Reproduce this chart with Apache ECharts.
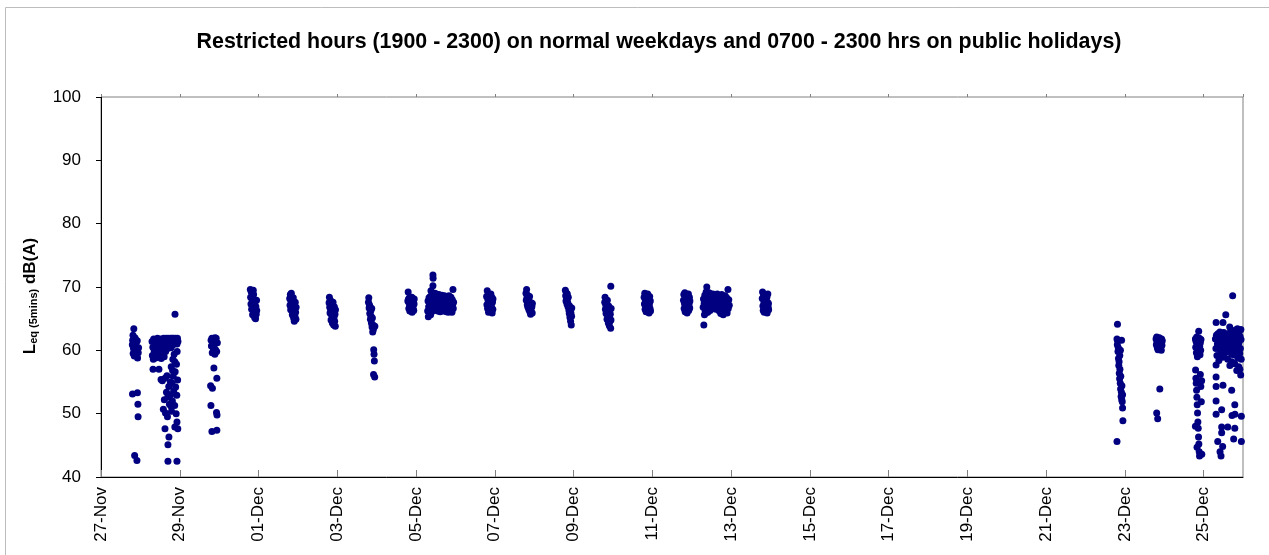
<!DOCTYPE html>
<html>
<head>
<meta charset="utf-8">
<script src="https://cdn.jsdelivr.net/npm/echarts@6/dist/echarts.min.js"></script>
<style>
  html, body { margin: 0; padding: 0; background: #fff; }
  #chart { width: 1269px; height: 555px; }
</style>
</head>
<body>
<div id="chart"></div>
<script>
// x tick labels, one every 2 days from 27-Nov
const tickLabels = ['27-Nov', '29-Nov', '01-Dec', '03-Dec', '05-Dec', '07-Dec', '09-Dec', '11-Dec',
  '13-Dec', '15-Dec', '17-Dec', '19-Dec', '21-Dec', '23-Dec', '25-Dec']

// readings per day: [hour of day, Leq dB(A)]
const nov27 = [[19.1,60.9],[19.3,61.6],[19.5,62.4],[19.6,59.5],[19.8,60.3],[20.0,63.4],[20.1,61.1],[20.3,59.1],
  [20.5,43.4],[20.6,60.6],[20.8,61.8],[21.0,59.8],[21.2,60.9],[19.2,53.1],[21.5,61.3],[21.7,59.4],[21.9,42.6],
  [22.0,60.1],[22.2,53.3],[22.3,58.8],[22.5,51.5],[22.6,49.5],[22.7,59.6],[22.9,60.4],[22.1,61.5],[20.7,62.0]]

const nov28 = [[7.1,61.4],[7.3,59.2],[7.6,60.5],[7.9,58.6],[8.1,61.8],[8.4,59.9],[7.7,57.0],[8.9,60.8],[9.2,58.8],
  [9.5,61.5],[9.8,59.5],[10.1,60.2],[10.4,61.9],[10.7,58.9],[11.0,60.7],[11.3,57.0],[11.5,61.3],[11.8,59.6],
  [12.1,60.4],[12.4,61.8],[12.7,58.7],[13.0,60.9],[13.3,59.3],[13.6,61.6],[13.9,60.1],[14.2,61.9],[14.5,59.0],
  [14.8,60.6],[15.1,61.4],[15.4,59.8],[15.7,61.9],[16.0,60.9],[16.3,61.5],[16.6,60.3],[16.9,61.9],[17.2,61.2],
  [17.5,60.6],[17.8,61.7],[18.1,61.0],[18.4,61.9],[18.7,60.4],[19.0,61.5],[19.3,61.9],[19.6,60.8],[19.9,61.6],
  [20.2,61.9],[20.5,61.2],[20.8,61.7],[21.1,65.7],[21.4,61.9],[21.7,61.3],[22.0,61.8],[22.3,61.0],[22.6,61.9],
  [22.9,61.4],
  [12.6,55.4],[13.4,55.2],[14.0,50.7],[14.6,52.2],[15.0,55.6],[15.3,50.1],[15.0,47.6],[15.9,53.4],[16.2,56.0],
  [16.5,49.5],[16.7,52.6],[21.0,47.9],[17.3,54.3],[17.4,46.3],[17.7,51.5],[16.8,45.1],[16.8,42.5],[18.3,55.0],
  [18.5,53.0],[18.8,57.4],[19.0,50.4],[19.3,54.8],[19.5,52.0],[19.8,58.6],[20.0,55.9],[20.3,53.6],[20.6,59.4],
  [20.9,51.3],[21.2,56.6],[21.5,54.2],[21.8,50.0],[22.0,57.8],[22.2,52.9],[22.4,59.8],[22.3,48.7],[22.7,55.3],
  [22.8,47.6],[22.3,42.5],[21.0,58.2],[19.6,56.8],[18.6,51.2]]

const nov29 = [[19.1,61.6],[19.3,60.7],[18.8,54.4],[19.6,61.9],[19.8,59.6],[19.9,54.0],[20.1,61.2],[19.0,51.3],
  [20.5,60.3],[20.7,61.8],[19.6,47.2],[21.0,60.9],[20.8,57.2],[21.4,59.4],[21.6,61.5],[21.8,60.1],[22.6,55.6],
  [22.2,61.9],[22.4,50.2],[22.5,59.8],[22.7,49.8],[22.6,47.4],[22.9,61.2],[21.5,62.0]]

const nov30 = [[19.0,69.6],[19.2,68.4],[19.4,67.3],[19.6,69.2],[19.8,66.5],[20.0,68.1],[20.2,67.0],[20.4,65.6],
  [20.6,66.8],[20.8,69.5],[21.0,68.8],[21.2,67.6],[21.4,66.1],[21.6,65.2],[21.8,67.2],[22.0,66.4],[22.2,65.0],
  [22.4,66.9],[22.6,65.7],[22.8,67.9],[22.9,66.3]]

const dec01 = [[19.0,68.2],[19.2,67.1],[19.4,68.8],[19.6,66.4],[19.8,67.7],[20.0,69.0],[20.2,66.9],[20.4,68.0],
  [20.6,65.6],[20.8,67.4],[21.0,66.2],[21.2,68.3],[21.4,65.1],[21.6,67.0],[21.8,64.6],[22.0,66.6],[22.2,65.4],
  [22.4,67.6],[22.6,66.0],[22.8,64.9],[22.9,66.8]]

const dec02 = [[19.0,67.5],[19.2,68.4],[19.4,66.8],[19.6,65.9],[19.8,67.9],[20.0,66.3],[20.2,64.8],[20.4,67.2],
  [20.6,65.5],[20.8,66.7],[21.0,64.3],[21.2,65.9],[21.4,67.6],[21.6,66.1],[21.8,64.0],[22.0,65.2],[22.2,66.9],
  [22.4,64.6],[22.6,65.7],[22.8,63.8],[22.9,66.4]]

const dec03 = [[19.0,67.6],[19.2,68.3],[19.4,66.7],[19.6,67.2],[19.8,65.8],[20.0,66.9],[20.2,64.9],[20.4,66.2],
  [20.6,65.4],[20.8,64.3],[21.0,66.6],[21.2,63.7],[21.4,65.1],[21.6,62.9],[21.8,64.0],[22.0,63.3],[22.2,60.1],
  [22.4,59.4],[22.6,58.3],[22.8,55.8],[22.9,63.8],[22.1,56.2]]

const dec04 = [[19.0,67.8],[19.2,69.2],[19.4,68.1],[19.6,66.6],[19.8,67.4],[20.0,68.3],[20.2,66.2],[20.4,67.7],
  [20.6,66.9],[20.8,68.0],[21.0,66.4],[21.2,67.2],[21.4,68.4],[21.6,66.0],[21.8,67.5],[22.0,68.2],[22.2,66.7],
  [22.4,67.9],[22.6,66.3],[22.8,67.3],[22.9,68.1]]

const dec05 = [[7.1,66.2],[7.3,67.8],[7.5,65.3],[7.7,66.9],[7.9,68.3],[8.1,65.8],[8.3,67.3],[8.5,66.4],[8.7,68.5],
  [8.9,65.6],[9.1,69.4],[9.3,67.0],[9.5,66.1],[9.7,68.0],[9.9,67.5],[10.1,66.6],[10.3,71.9],[10.4,71.4],
  [10.3,70.2],[10.5,68.7],[10.7,67.2],[10.9,66.3],[11.1,68.2],[11.3,67.6],[11.5,69.0],[11.7,66.8],[11.9,68.4],
  [12.1,67.1],[12.3,68.9],[12.5,66.5],[12.7,67.9],[12.9,68.6],[13.1,67.4],[13.3,66.2],[13.5,68.1],[13.7,67.0],
  [13.9,68.8],[14.1,66.7],[14.3,67.7],[14.5,68.5],[14.7,66.1],[14.9,67.3],[15.1,68.2],[15.3,66.6],[15.5,67.8],
  [15.7,68.7],[15.9,66.4],[16.1,67.5],[16.3,68.3],[16.5,67.0],[16.7,66.2],[16.9,68.0],[17.1,67.3],[17.3,68.6],
  [17.5,66.5],[17.7,67.6],[17.9,68.4],[18.1,66.8],[18.3,67.9],[18.5,66.1],[18.7,68.2],[18.9,67.1],[19.1,66.4],
  [19.3,68.5],[19.5,67.4],[19.7,66.0],[19.9,67.8],[20.1,68.6],[20.3,66.7],[20.5,67.5],[20.7,68.1],[20.9,66.3],
  [21.1,67.2],[21.3,68.4],[21.5,66.9],[21.7,67.7],[21.9,66.0],[22.1,68.0],[22.3,67.0],[22.5,69.6],[22.7,66.6],
  [22.9,67.6]]

const dec06 = [[19.0,68.5],[19.2,67.2],[19.4,69.4],[19.6,66.6],[19.8,68.0],[20.0,67.4],[20.2,66.0],[20.4,68.8],
  [20.6,67.0],[20.8,66.4],[21.0,68.2],[21.2,67.7],[21.4,66.2],[21.6,68.9],[21.8,67.3],[22.0,66.8],[22.2,68.4],
  [22.4,65.9],[22.6,67.6],[22.8,66.5],[22.9,68.1]]

const dec07 = [[19.0,69.0],[19.2,67.9],[19.4,69.6],[19.6,68.3],[19.8,67.2],[20.0,68.7],[20.2,66.8],[20.4,67.6],
  [20.6,68.1],[20.8,66.4],[21.0,67.3],[21.2,68.5],[21.4,66.1],[21.6,67.0],[21.8,65.7],[22.0,66.6],[22.2,67.5],
  [22.4,66.0],[22.6,66.9],[22.8,65.9],[22.9,67.4]]

const dec08 = [[19.0,69.5],[19.2,68.6],[19.4,67.8],[19.6,69.1],[19.8,68.2],[20.0,67.3],[20.2,68.9],[20.4,67.6],
  [20.6,66.9],[20.8,68.4],[21.0,67.1],[21.2,66.3],[21.4,65.8],[21.6,67.0],[21.8,65.2],[22.0,66.5],[22.2,64.6],
  [22.4,65.9],[22.6,64.0],[22.8,65.4],[22.9,66.7]]

const dec09 = [[19.0,67.6],[19.2,68.4],[19.4,66.5],[19.6,67.2],[19.8,65.8],[22.7,70.1],[20.2,66.9],[20.4,64.9],
  [20.6,67.9],[20.8,65.5],[21.0,66.3],[21.2,64.3],[21.4,67.0],[21.6,65.1],[21.8,63.9],[22.0,66.0],[22.2,64.6],
  [22.4,65.7],[22.6,63.5],[22.8,64.8],[22.9,66.6]]

const dec10 = [[19.0,68.4],[19.2,67.3],[19.4,69.0],[19.6,66.5],[19.8,67.9],[20.0,68.7],[20.2,66.1],[20.4,67.6],
  [20.6,68.2],[20.8,66.8],[21.0,67.0],[21.2,68.9],[21.4,66.3],[21.6,67.5],[21.8,68.0],[22.0,65.9],[22.2,67.2],
  [22.4,68.5],[22.6,66.6],[22.8,67.8],[22.9,66.2]]

const dec11 = [[19.0,67.9],[19.2,68.8],[19.4,66.6],[19.6,67.4],[19.8,69.1],[20.0,66.1],[20.2,68.3],[20.4,67.1],
  [20.6,66.4],[20.8,68.6],[21.0,67.7],[21.2,65.9],[21.4,68.0],[21.6,66.9],[21.8,67.5],[22.0,68.9],[22.2,66.3],
  [22.4,67.3],[22.6,68.4],[22.8,66.7],[22.9,67.8]]

const dec12 = [[7.0,66.8],[7.2,68.1],[7.4,64.0],[7.6,67.4],[7.8,65.6],[8.0,68.7],[8.2,66.2],[8.4,67.8],[8.6,65.9],
  [8.8,69.2],[9.0,66.9],[9.2,70.0],[9.4,68.3],[9.6,67.2],[9.8,66.0],[10.0,68.8],[10.2,67.6],[10.4,66.5],
  [10.6,69.1],[10.8,67.0],[11.0,68.4],[11.2,66.3],[11.4,67.9],[11.6,68.9],[11.8,67.3],[12.0,66.7],[12.3,68.5],
  [12.6,67.5],[12.9,68.9],[13.2,67.1],[13.5,68.2],[13.8,66.8],[14.1,68.7],[14.4,67.6],[14.7,66.5],[15.0,68.3],
  [15.3,67.4],[15.6,68.9],[15.9,66.9],[16.2,67.8],[16.5,68.6],[16.8,66.2],[17.1,67.3],[17.4,68.4],[17.7,65.8],
  [18.0,67.0],[18.3,68.8],[18.6,66.4],[18.9,67.7],[19.2,65.6],[19.5,68.1],[19.8,66.7],[20.1,67.5],[20.4,68.6],
  [20.7,66.1],[21.0,67.2],[21.3,68.3],[21.6,65.9],[21.9,67.8],[22.1,69.6],[22.3,66.6],[22.6,68.0],[22.9,67.1]]

const dec13 = [[19.0,68.2],[19.2,69.2],[19.4,67.0],[19.6,66.3],[19.8,68.6],[20.0,67.5],[20.2,66.0],[20.4,68.0],
  [20.6,67.3],[20.8,66.6],[21.0,68.8],[21.2,67.8],[21.4,66.2],[21.6,67.1],[21.8,68.4],[22.0,65.9],[22.2,67.6],
  [22.4,68.9],[22.6,66.8],[22.8,67.4],[22.9,66.4]]

const dec22 = [[19.2,61.8],[19.4,60.9],[19.6,61.5],[19.8,59.8],[20.0,60.4],[20.1,58.7],[20.3,57.6],[20.5,58.2],
  [20.6,56.4],[20.8,55.5],[21.0,57.0],[21.2,54.8],[21.4,53.9],[21.5,55.9],[21.7,52.7],[21.9,53.4],[22.1,52.2],
  [22.2,54.4],[22.4,51.9],[22.6,50.9],[22.8,48.9],[19.5,64.1],[19.2,45.6],[20.9,59.2],[21.3,60.0],[22.0,61.6],
  [22.6,53.0]]

const dec23 = [[19.0,61.8],[19.2,60.9],[19.4,62.1],[19.6,61.2],[19.8,60.4],[20.0,61.6],[20.2,60.1],[20.4,61.9],
  [20.6,60.7],[20.8,61.4],[21.0,62.0],[21.2,60.3],[21.4,61.0],[21.6,61.7],[21.8,60.5],[22.0,61.3],[22.2,60.0],
  [22.4,61.8],[22.6,60.8],[22.8,61.5],[21.3,53.9],[19.4,50.1],[20.0,49.2]]

const dec24 = [[19.0,61.8],[19.2,60.5],[19.4,61.4],[19.6,59.6],[19.8,62.1],[20.0,60.9],[20.2,59.0],[20.4,61.6],
  [20.6,60.2],[20.8,61.1],[21.0,63.0],[21.2,59.8],[21.4,61.9],[21.6,60.6],[21.8,59.3],[22.0,61.2],[22.2,60.0],
  [22.4,61.7],[19.1,56.9],[19.3,55.6],[19.5,54.8],[19.7,53.7],[19.9,52.6],[20.1,51.4],[20.3,50.1],[20.5,48.7],
  [20.7,47.7],[20.9,46.3],[21.1,45.2],[21.3,44.0],[21.5,43.3],[22.0,56.2],[22.3,54.3],[22.6,51.9],[22.8,55.2],
  [19.0,48.0],[22.9,43.6],[20.0,44.7]]

const dec25 = [[7.2,61.8],[7.5,60.3],[7.8,62.4],[8.1,59.2],[8.4,61.0],[8.7,62.6],[9.0,60.5],[9.3,58.4],[9.6,61.6],
  [9.9,62.9],[10.2,60.0],[10.5,61.3],[10.8,59.5],[11.1,62.2],[11.4,60.8],[11.7,58.9],[12.0,61.5],[12.3,62.8],
  [12.6,60.2],[12.9,61.9],[13.2,59.6],[13.5,62.5],[13.8,61.1],[14.1,60.4],[14.4,62.1],[14.7,58.6],[15.0,61.7],
  [15.3,60.9],[15.6,62.7],[15.9,59.9],[16.2,61.4],[16.5,62.3],[16.8,60.6],[17.1,58.2],[17.4,61.2],[17.7,62.9],
  [18.0,60.1],[18.2,61.8],[18.4,59.3],[18.6,62.5],[18.8,60.7],[19.0,57.9],[19.2,61.5],[19.4,63.2],[19.6,59.7],
  [19.8,62.0],[20.0,60.4],[20.2,56.8],[20.4,61.9],[20.6,63.4],[20.8,58.8],[21.0,62.6],[21.2,60.9],[21.4,57.4],
  [21.6,61.3],[21.8,63.0],[22.0,59.5],[22.2,62.2],[22.4,60.3],[22.6,56.1],[22.8,61.7],[22.9,58.6],[21.5,59.9],
  [20.5,62.1],[19.5,60.9],[22.1,57.0],[22.7,63.3],[18.1,63.0],[17.0,59.4],[16.0,57.6],
  [17.7,68.6],[13.5,65.6],[7.6,64.4],[11.8,64.4],[15.9,63.7],[7.6,57.7],[7.6,55.8],[7.6,54.3],[11.8,54.5],
  [17.1,53.7],[7.6,52.0],[19.0,51.4],[11.0,50.6],[7.6,49.9],[17.3,49.7],[19.1,49.9],[23.0,49.6],[11.0,47.9],
  [14.7,47.9],[19.0,47.7],[11.0,47.0],[8.6,45.6],[18.3,46.0],[23.0,45.6],[11.6,44.8],[10.0,44.0],[10.6,43.3]]

// day offset from 27-Nov for each set of readings
const dayReadings = [[0, nov27], [1, nov28], [2, nov29], [3, nov30], [4, dec01], [5, dec02], [6, dec03],
  [7, dec04], [8, dec05], [9, dec06], [10, dec07], [11, dec08], [12, dec09], [13, dec10], [14, dec11],
  [15, dec12], [16, dec13], [25, dec22], [26, dec23], [27, dec24], [28, dec25]]

const points = dayReadings.flatMap(([day, pts]) => pts.map(([h, v]) => [day + h / 24, v]))

const font = 'Liberation Sans, Arial, sans-serif'
const chart = echarts.init(document.getElementById('chart'))

chart.setOption({
  animation: false,
  backgroundColor: '#fff',
  title: {
    text: 'Restricted hours (1900 - 2300) on normal weekdays and 0700 - 2300 hrs on public holidays)',
    left: 654,
    textAlign: 'center',
    top: 27,
    textStyle: { fontFamily: font, fontSize: 21.4, fontWeight: 'bold', color: '#000' }
  },
  graphic: [{
    type: 'rect',
    shape: { x: 5.5, y: 7.5, width: 1400, height: 700 },
    style: { fill: 'none', stroke: '#bdbdbd', lineWidth: 1 },
    silent: true
  }],
  grid: {
    left: 101, right: 26, top: 97, bottom: 78,
    show: true, borderColor: '#808080', borderWidth: 1
  },
  xAxis: [{
    type: 'value',
    min: 0, max: 29, interval: 2,
    axisLine: { lineStyle: { color: '#000', width: 1 } },
    axisTick: { inside: true, length: 7, lineStyle: { color: '#808080' } },
    axisLabel: {
      rotate: 90, margin: 10, fontSize: 17, fontFamily: font, color: '#000',
      showMaxLabel: false,
      formatter: v => tickLabels[v / 2] || ''
    },
    splitLine: { show: false }
  }, {
    type: 'value',
    min: 0, max: 29, interval: 2,
    axisLine: { show: false },
    axisTick: { length: 3, lineStyle: { color: '#808080' } },
    axisLabel: { show: false },
    splitLine: { show: false }
  }],
  yAxis: {
    type: 'value',
    min: 40, max: 100, interval: 10,
    name: '{a|L}{b|eq (5mins)}{a| dB(A)}',
    nameLocation: 'middle',
    nameRotate: 90,
    nameGap: 62,
    nameTextStyle: {
      padding: [0, 18, 0, 0],
      rich: {
        a: { fontFamily: font, fontSize: 17, fontWeight: 'bold', color: '#000' },
        b: { fontFamily: font, fontSize: 11, fontWeight: 'bold', color: '#000', verticalAlign: 'bottom', padding: [6, 0, 0, 0] }
      }
    },
    axisLine: { show: true, lineStyle: { color: '#000', width: 1 } },
    axisTick: { show: true, length: 5, lineStyle: { color: '#000' } },
    axisLabel: { margin: 20, fontSize: 17, fontFamily: font, color: '#000' },
    splitLine: { show: false }
  },
  series: [{
    type: 'scatter',
    data: points,
    symbol: 'circle',
    symbolSize: 7,
    itemStyle: { color: '#000080', opacity: 1 }
  }]
})
</script>
</body>
</html>
